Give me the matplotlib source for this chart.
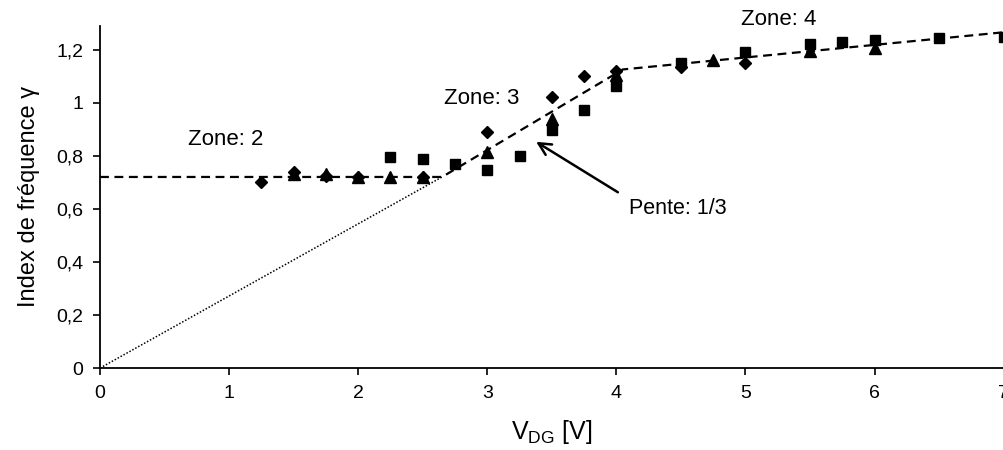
import matplotlib
matplotlib.use("Agg")
import matplotlib.pyplot as plt

plt.rcParams['font.family'] = ['Liberation Sans', 'DejaVu Sans']
plt.rcParams['mathtext.fontset'] = 'custom'
plt.rcParams['mathtext.rm'] = 'Liberation Sans'
plt.rcParams['mathtext.it'] = 'Liberation Sans:italic'

# Data
diamond_x = [1.25, 1.5, 1.75, 2.0, 2.5, 3.0, 3.5, 3.75, 4.0, 4.5, 5.0]
diamond_y = [0.70, 0.74, 0.725, 0.72, 0.72, 0.89, 1.02, 1.10, 1.12, 1.135, 1.15]
triangle_x = [1.5, 1.75, 2.0, 2.25, 2.5, 3.0, 3.5, 4.0, 4.75, 5.5, 6.0]
triangle_y = [0.73, 0.73, 0.72, 0.72, 0.72, 0.815, 0.94, 1.105, 1.16, 1.195, 1.205]
square_x = [2.25, 2.5, 2.75, 3.0, 3.25, 3.5, 3.75, 4.0, 4.5, 5.0, 5.5, 5.75, 6.0, 6.5, 7.0]
square_y = [0.795, 0.788, 0.767, 0.745, 0.80, 0.897, 0.973, 1.063, 1.148, 1.19, 1.22, 1.227, 1.237, 1.243, 1.248]
fit_x = [0.0, 2.65, 4.05, 7.0]
fit_y = [0.72, 0.72, 1.125, 1.265]
dotted_x = [0.0, 2.65]
dotted_y = [0.0, 0.72]
xticks = [0, 1, 2, 3, 4, 5, 6, 7]
yticks = [0, 0.2, 0.4, 0.6, 0.8, 1.0, 1.2]
ytick_labels = ['0', '0,2', '0,4', '0,6', '0,8', '1', '1,2']

fig = plt.figure(figsize=(10.04, 4.5), dpi=100)
ax = fig.add_axes([0.0996, 0.182, 0.9, 0.761])

ax.plot(dotted_x, dotted_y, color='black', linestyle=(0, (1, 1.2)), lw=1.1, zorder=1)
ax.plot(fit_x, fit_y, color='black', linestyle=(0, (4, 2.5)), lw=1.6, zorder=2)
ax.plot(diamond_x, diamond_y, linestyle='none', marker='D', ms=6.5, color='black', zorder=3)
ax.plot(triangle_x, triangle_y, linestyle='none', marker='^', ms=8.5, color='black', zorder=3)
ax.plot(square_x, square_y, linestyle='none', marker='s', ms=7, color='black', zorder=3)

ax.set_xlim(0, 7)
ax.set_ylim(0, 1.29)
ax.set_xticks(xticks)
ax.set_xticklabels([str(t) for t in xticks])
ax.set_yticks(yticks)
ax.set_yticklabels(ytick_labels)
ax.tick_params(axis='both', direction='out', length=5, width=1.2, labelsize=14, pad=7)
ax.spines['top'].set_visible(False)
ax.spines['right'].set_visible(False)
ax.spines['left'].set_linewidth(1.3)
ax.spines['bottom'].set_linewidth(1.3)

ax.set_xlabel(r'V$_{\mathrm{DG}}$ [V]', fontsize=18, labelpad=12)
ax.set_ylabel('Index de fréquence γ', fontsize=17, labelpad=12)

ax.text(0.97, 0.862, 'Zone: 2', fontsize=16, ha='center', va='center')
ax.text(2.96, 1.014, 'Zone: 3', fontsize=16, ha='center', va='center')
ax.text(5.26, 1.314, 'Zone: 4', fontsize=16, ha='center', va='center', clip_on=False)
ax.annotate('', xy=(3.36, 0.858), xytext=(4.03, 0.657),
            arrowprops=dict(arrowstyle='->', lw=1.8, color='black', mutation_scale=22))
ax.text(4.10, 0.60, 'Pente: 1/3', fontsize=15.5, ha='left', va='center')

fig.savefig('out.png', dpi=100)
